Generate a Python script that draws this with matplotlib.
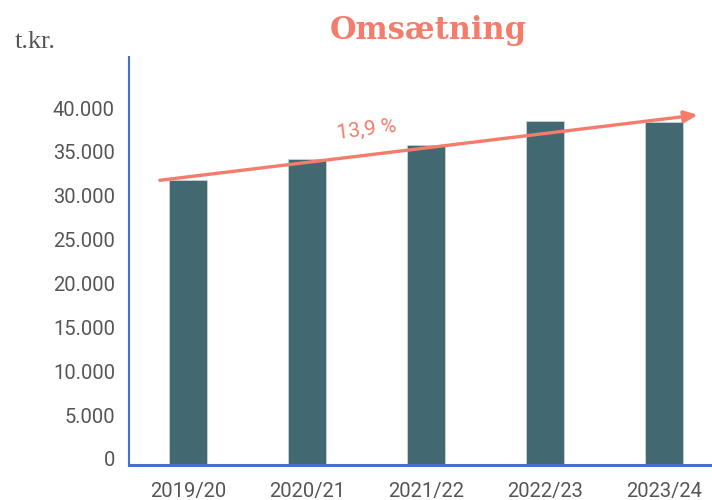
import matplotlib
matplotlib.use("Agg")
import matplotlib.pyplot as plt
import matplotlib.transforms as mtransforms
from matplotlib.ticker import FuncFormatter

# ----------------------------------------------------------------------
# DATA (t.kr.)
# ----------------------------------------------------------------------
years = ["2019/20", "2020/21", "2021/22", "2022/23", "2023/24"]
revenue = [32450, 34850, 36450, 39200, 39100]
y_ticks = [0, 5000, 10000, 15000, 20000, 25000, 30000, 35000, 40000]

# trend arrow drawn over the bars, from start to end (category pos, value)
trend_x = [-0.24, 4.28]
trend_y = [32450, 39900]
trend_label = "13,9 %"

BAR_COLOR = "#426972"
SPINE_COLOR = "#4472C4"
ACCENT = "#F47C6B"
TEXT_GREY = "#555555"

fig = plt.figure(figsize=(7.12, 5.0), dpi=100)
ax = fig.add_axes([0.181, 0.07, 0.819, 0.816])

x = list(range(len(years)))
ax.bar(x, revenue, width=0.32, color=BAR_COLOR, edgecolor="#c9d3d6",
       linewidth=0.6, zorder=2)

ax.set_xlim(-0.5, 4.4)
ax.set_ylim(0, 46500)
ax.set_xticks(x)
ax.set_xticklabels(years)
ax.set_yticks(y_ticks)
ax.yaxis.set_major_formatter(
    FuncFormatter(lambda v, _: f"{int(v):,}".replace(",", ".")))

for side in ["top", "right"]:
    ax.spines[side].set_visible(False)
ax.spines["left"].set_color(SPINE_COLOR)
ax.spines["left"].set_linewidth(1.5)
ax.spines["bottom"].set_color(SPINE_COLOR)
ax.spines["bottom"].set_linewidth(2.2)
ax.spines["bottom"].set_zorder(3)

ax.tick_params(axis="both", length=0, colors=TEXT_GREY, labelsize=14.5)
ax.tick_params(axis="y", pad=10)
ax.tick_params(axis="x", pad=12)
for lab in ax.get_xticklabels() + ax.get_yticklabels():
    lab.set_fontfamily("Roboto")

# y labels sit a few pixels above their value in the reference
shift = mtransforms.ScaledTranslation(0, 6 / 100, fig.dpi_scale_trans)
for lab in ax.get_yticklabels():
    lab.set_transform(lab.get_transform() + shift)

# trend arrow
ax.annotate("", xy=(trend_x[1], trend_y[1]), xytext=(trend_x[0], trend_y[0]),
            arrowprops=dict(arrowstyle="-|>,head_length=0.8,head_width=0.35",
                            color=ACCENT, lw=2.4, shrinkA=0, shrinkB=0),
            zorder=3, annotation_clip=False)
ax.text(1.5, 38200, trend_label, color=ACCENT, fontsize=15,
        fontfamily="Roboto", rotation=7, ha="center", va="center", zorder=4)

fig.text(0.601, 0.938, "Omsætning", color=ACCENT, fontsize=22,
         fontweight="bold", fontfamily="DejaVu Serif", ha="center",
         va="center")
fig.text(0.02, 0.915, "t.kr.", color=TEXT_GREY, fontsize=19,
         fontfamily="Liberation Serif", ha="left", va="center")

fig.savefig("out.png", dpi=100)
